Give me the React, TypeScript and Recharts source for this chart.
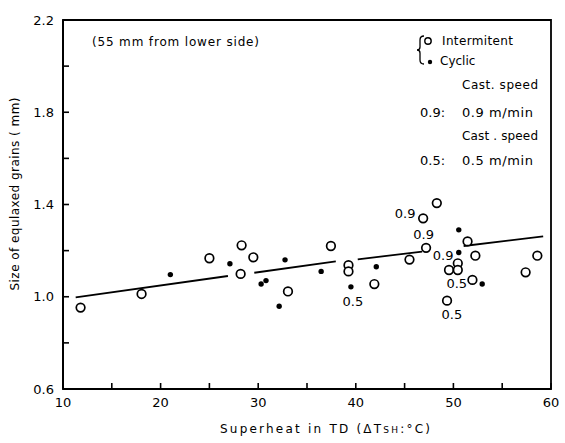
import { ScatterChart, Scatter, XAxis, YAxis, ReferenceArea } from 'recharts'

// superheat (°C) vs size of equiaxed grains (mm)
const intermittent = [
  { x: 11.8, y: 0.953 },
  { x: 18.05, y: 1.012 },
  { x: 25.0, y: 1.167 },
  { x: 28.3, y: 1.223 },
  { x: 28.2, y: 1.099 },
  { x: 29.5, y: 1.171 },
  { x: 33.05, y: 1.023 },
  { x: 37.45, y: 1.22 },
  { x: 39.25, y: 1.137 },
  { x: 39.25, y: 1.11 },
  { x: 41.9, y: 1.055 },
  { x: 45.5, y: 1.161 },
  { x: 46.9, y: 1.34 },
  { x: 48.3, y: 1.406 },
  { x: 47.2, y: 1.212 },
  { x: 51.45, y: 1.24 },
  { x: 52.25, y: 1.178 },
  { x: 50.45, y: 1.145 },
  { x: 49.55, y: 1.116 },
  { x: 50.45, y: 1.116 },
  { x: 51.95, y: 1.073 },
  { x: 49.35, y: 0.983 },
  { x: 57.4, y: 1.106 },
  { x: 58.6, y: 1.178 },
]

const cyclic = [
  { x: 21.0, y: 1.096 },
  { x: 27.1, y: 1.143 },
  { x: 30.3, y: 1.055 },
  { x: 30.8, y: 1.07 },
  { x: 32.75, y: 1.16 },
  { x: 32.15, y: 0.959 },
  { x: 36.45, y: 1.11 },
  { x: 39.5, y: 1.043 },
  { x: 42.1, y: 1.13 },
  { x: 50.55, y: 1.29 },
  { x: 50.55, y: 1.192 },
  { x: 52.95, y: 1.055 },
]

// regression line, broken where it passes the markers
const fitSegments = [
  [{ x: 11.3, y: 0.997 }, { x: 26.9, y: 1.09 }],
  [{ x: 29.6, y: 1.104 }, { x: 37.95, y: 1.153 }],
  [{ x: 40.2, y: 1.162 }, { x: 46.8, y: 1.196 }],
  [{ x: 51.05, y: 1.22 }, { x: 59.2, y: 1.262 }],
]

// casting speed notes beside some points
const speedNotes = [
  { x: 45.05, y: 1.361, label: '0.9' },
  { x: 46.95, y: 1.27, label: '0.9' },
  { x: 48.95, y: 1.183, label: '0.9' },
  { x: 39.7, y: 0.983, label: '0.5' },
  { x: 50.35, y: 1.061, label: '0.5' },
  { x: 49.85, y: 0.926, label: '0.5' },
]

const xTicks = [10, 15, 20, 25, 30, 35, 40, 45, 50, 55, 60]
const xLabels = [10, 20, 30, 40, 50, 60]
const yTicks = [0.6, 0.8, 1.0, 1.2, 1.4, 1.6, 1.8, 2.0, 2.2]
const yLabels = ['0.6', '1.0', '1.4', '1.8', '2.2']

const font = '"DejaVu Sans", sans-serif'

const XTick = (props: any) => {
  const { x, y, payload } = props
  return (
    <g>
      <line x1={x} x2={x} y1={y} y2={y - 6} stroke="#000" strokeWidth={1.6} />
      {xLabels.includes(payload.value) && (
        <text x={x} y={y + 18} textAnchor="middle" fontSize={13} fontFamily={font} fill="#000">
          {payload.value}
        </text>
      )}
    </g>
  )
}

const YTick = (props: any) => {
  const { x, y, payload } = props
  const txt = Number(payload.value).toFixed(1)
  return (
    <g>
      <line x1={x} x2={x + 6} y1={y} y2={y} stroke="#000" strokeWidth={1.6} />
      {yLabels.includes(txt) && (
        <text x={x - 9} y={y + 4.5} textAnchor="end" fontSize={13} fontFamily={font} fill="#000">
          {txt}
        </text>
      )}
    </g>
  )
}

const OpenDot = (p: any) => (
  <circle cx={p.cx} cy={p.cy} r={4.3} fill="#fff" stroke="#000" strokeWidth={1.7} />
)
const FilledDot = (p: any) => <circle cx={p.cx} cy={p.cy} r={2.7} fill="#000" />
const NoteText = (p: any) => (
  <text x={p.cx} y={p.cy + 5} textAnchor="middle" fontSize={13} fontFamily={font} fill="#000">
    {p.payload.label}
  </text>
)
const NoShape = () => null

export default function App() {
  return (
    <div style={{ position: 'absolute', left: 0, top: 0, width: 565, height: 443, background: '#fff' }}>
      <ScatterChart width={565} height={443} margin={{ top: 20, right: 14, bottom: 24, left: 0 }}>
        <XAxis
          type="number"
          dataKey="x"
          domain={[10, 60]}
          ticks={xTicks}
          allowDataOverflow
          height={30}
          tickSize={0}
          tickMargin={0}
          tick={<XTick />}
          axisLine={{ stroke: '#000', strokeWidth: 2 }}
        />
        <YAxis
          type="number"
          dataKey="y"
          domain={[0.6, 2.2]}
          ticks={yTicks}
          allowDataOverflow
          width={63}
          tickSize={0}
          tickMargin={0}
          tick={<YTick />}
          axisLine={{ stroke: '#000', strokeWidth: 2 }}
        />
        <ReferenceArea x1={10} x2={60} y1={0.6} y2={2.2} fill="none" stroke="#000" strokeWidth={1.8} />
        {fitSegments.map((seg, i) => (
          <Scatter
            key={i}
            data={seg}
            line={{ stroke: '#000', strokeWidth: 1.8 }}
            shape={<NoShape />}
            isAnimationActive={false}
          />
        ))}
        <Scatter data={intermittent} shape={<OpenDot />} isAnimationActive={false} />
        <Scatter data={cyclic} shape={<FilledDot />} isAnimationActive={false} />
        <Scatter data={speedNotes} shape={<NoteText />} isAnimationActive={false} />
      </ScatterChart>
      <svg
        width={565}
        height={443}
        style={{ position: 'absolute', left: 0, top: 0, pointerEvents: 'none', whiteSpace: 'pre' }}
        fontFamily={font}
        fontSize={12}
      >
        <text x={92} y={46} textLength={167} lengthAdjust="spacing">(55 mm from lower side)</text>
        <path
          d="M424,36 Q420,36 420,40 L420,47 Q420,50 417,50 Q420,50 420,53 L420,60 Q420,64 424,64"
          fill="none"
          stroke="#000"
          strokeWidth={1.3}
        />
        <circle cx={428} cy={41} r={3.2} fill="#fff" stroke="#000" strokeWidth={1.4} />
        <circle cx={430} cy={62} r={2.2} fill="#000" />
        <text x={442} y={45} textLength={71} lengthAdjust="spacing">Intermitent</text>
        <text x={440} y={65}>Cyclic</text>
        <text x={462} y={89} textLength={76} lengthAdjust="spacing">Cast. speed</text>
        <text x={420} y={117} fontSize={13}>0.9:</text>
        <text x={462} y={117} fontSize={13} textLength={71} lengthAdjust="spacing">0.9 m/min</text>
        <text x={462} y={140} textLength={76} lengthAdjust="spacing">Cast . speed</text>
        <text x={420} y={165} fontSize={13}>0.5:</text>
        <text x={462} y={165} fontSize={13} textLength={71} lengthAdjust="spacing">0.5 m/min</text>
        <text x={220} y={433} textLength={210} lengthAdjust="spacing">
          Superheat  in  TD (ΔT<tspan fontSize={9}>SH</tspan>:°C)
        </text>
        <text
          x={19}
          y={194}
          textAnchor="middle"
          transform="rotate(-90 19 194)"
          textLength={193}
          lengthAdjust="spacing"
        >
          Size of equlaxed grains ( mm)
        </text>
      </svg>
    </div>
  )
}
